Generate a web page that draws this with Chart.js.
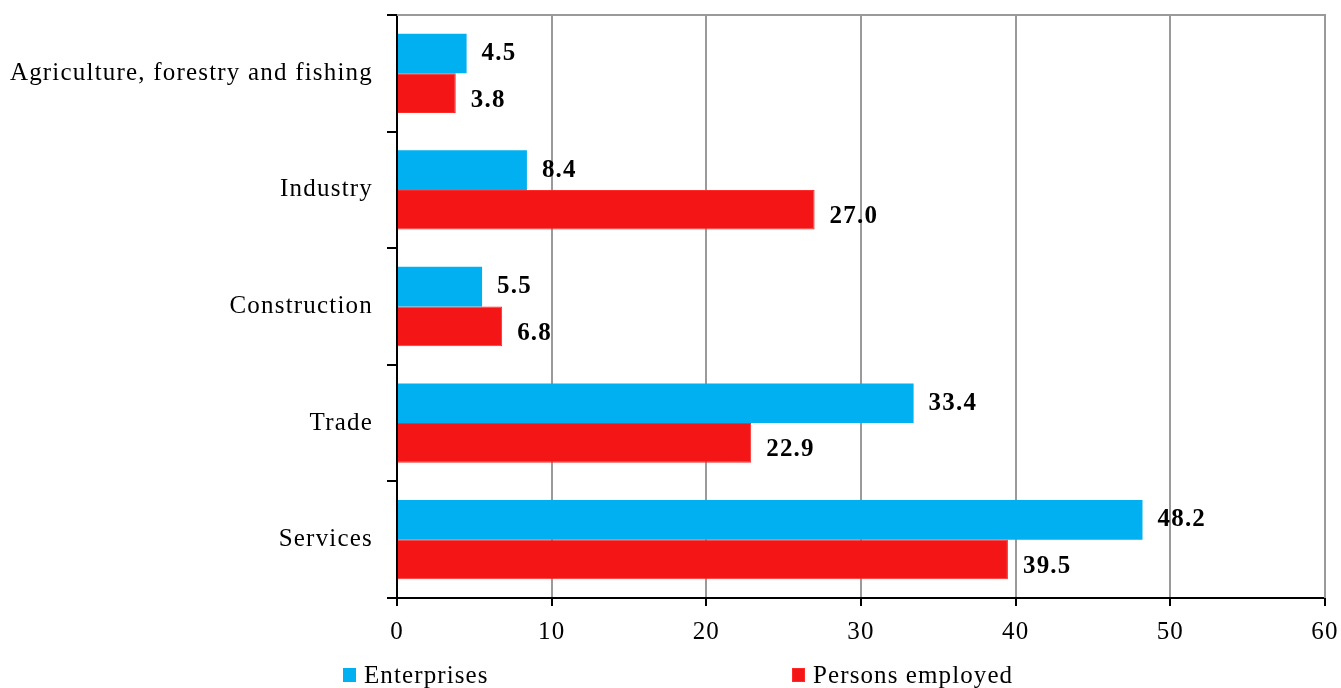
<!DOCTYPE html>
<html>
<head>
<meta charset="utf-8">
<script src="https://cdn.jsdelivr.net/npm/chart.js@4/dist/chart.umd.min.js"></script>
<style>
  html, body { margin: 0; padding: 0; background: #fff; }
  #wrap { position: relative; width: 1341px; height: 688px; }
  #legend { position: absolute; left: 0; top: 661px; width: 1341px; height: 28px;
    font-family: "Liberation Serif", "Times New Roman", serif; font-size: 25px; color: #000; letter-spacing: 1.1px; }
  .li { position: absolute; top: 0; display: flex; align-items: center; height: 28px; }
  .sw { width: 13px; height: 14px; margin-right: 8px; box-sizing: border-box; }
</style>
</head>
<body>
<div id="wrap">
  <canvas id="c" width="1341" height="688"></canvas>
  <div id="legend"></div>
</div>
<script>
const categories = ["Agriculture, forestry and fishing", "Industry", "Construction", "Trade", "Services"];
const seriesNames = ["Enterprises", "Persons employed"];
const enterprises = [4.5, 8.4, 5.5, 33.4, 48.2];
const personsEmployed = [3.8, 27.0, 6.8, 22.9, 39.5];
const xTicks = [0, 10, 20, 30, 40, 50, 60];

const colors = ["#00B0F0", "#F41616"];
const borders = ["#00B0F0", "#FF2A2A"];
const serif = '"Liberation Serif", "Times New Roman", serif';

const legendEl = document.getElementById('legend');
const legendLeft = [343, 792];
seriesNames.forEach((n, i) => {
  const d = document.createElement('div');
  d.className = 'li';
  d.style.left = legendLeft[i] + 'px';
  d.innerHTML = '<span class="sw" style="background:' + colors[i] + ';border:1px solid ' + borders[i] + '"></span><span>' + n + '</span>';
  legendEl.appendChild(d);
});

const spacing = {
  id: 'spacing',
  beforeUpdate(chart) { chart.ctx.letterSpacing = '1.2px'; },
  beforeDraw(chart) { chart.ctx.letterSpacing = '1.2px'; }
};

const frame = {
  id: 'frame',
  beforeDatasetsDraw(chart) {
    const a = chart.chartArea, ctx = chart.ctx;
    ctx.save();
    ctx.strokeStyle = '#9a9a9a';
    ctx.lineWidth = 2;
    ctx.beginPath();
    ctx.moveTo(a.left, a.top);
    ctx.lineTo(a.right, a.top);
    ctx.lineTo(a.right, a.bottom);
    ctx.stroke();
    ctx.restore();
  }
};

const valueLabels = {
  id: 'valueLabels',
  afterDatasetsDraw(chart) {
    const ctx = chart.ctx;
    ctx.save();
    ctx.font = 'bold 25px ' + serif;
    ctx.fillStyle = '#000';
    ctx.textAlign = 'left';
    ctx.textBaseline = 'middle';
    const dy = [0, 7];
    chart.data.datasets.forEach((ds, di) => {
      chart.getDatasetMeta(di).data.forEach((bar, i) => {
        ctx.fillText(ds.data[i].toFixed(1), bar.x + 15, bar.y + dy[di]);
      });
    });
    ctx.restore();
  }
};

new Chart(document.getElementById('c'), {
  type: 'bar',
  data: {
    labels: categories,
    datasets: [
      { label: seriesNames[0], data: enterprises, backgroundColor: colors[0], borderColor: borders[0], borderWidth: 0 },
      { label: seriesNames[1], data: personsEmployed, backgroundColor: colors[1], borderColor: borders[1], borderWidth: 1, borderSkipped: 'left' }
    ]
  },
  options: {
    indexAxis: 'y',
    responsive: false,
    animation: false,
    layout: { padding: { left: 0, right: 16, top: 15, bottom: 40 } },
    datasets: { bar: { categoryPercentage: 0.68, barPercentage: 1.0 } },
    plugins: { legend: { display: false }, tooltip: { enabled: false } },
    scales: {
      x: {
        min: 0, max: 60,
        afterBuildTicks(s) { s.ticks = xTicks.map(v => ({ value: v })); },
        afterFit(s) { s.height = 50; s.paddingLeft = 0; s.paddingRight = 0; },
        grid: { color: '#9a9a9a', lineWidth: 2, tickColor: '#000', tickLength: 8, drawTicks: true },
        border: { display: true, color: '#000', width: 2 },
        ticks: { color: '#000', font: { family: serif, size: 25 }, padding: 11 }
      },
      y: {
        afterFit(s) { s.width = 397; s.paddingTop = 0; s.paddingBottom = 0; },
        grid: { drawOnChartArea: false, offset: true, color: '#000', tickLength: 10, lineWidth: 2 },
        border: { display: true, color: '#000', width: 2 },
        ticks: { color: '#000', font: { family: serif, size: 25 }, padding: 14 }
      }
    }
  },
  plugins: [spacing, frame, valueLabels]
});
</script>
</body>
</html>
